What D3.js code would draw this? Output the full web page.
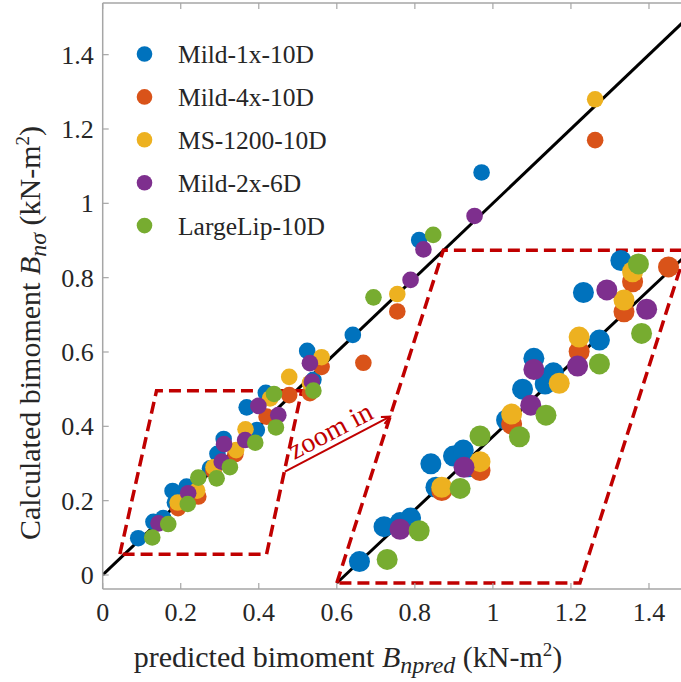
<!DOCTYPE html>
<html><head><meta charset="utf-8">
<script src="https://cdn.jsdelivr.net/npm/d3@7"></script>
<style>
html,body{margin:0;padding:0;background:#fff;}
svg{display:block;font-family:"Liberation Serif","Times New Roman",serif;}
</style></head>
<body>
<svg id="chart" width="681" height="682"></svg>
<script>
// ---------- data ----------
const seriesNames = ["Mild-1x-10D","Mild-4x-10D","MS-1200-10D","Mild-2x-6D","LargeLip-10D"];
const seriesColors = ["#0072BD","#D95319","#EDB120","#7E2F8E","#77AC30"];
const xTicks = [0,0.2,0.4,0.6,0.8,1,1.2,1.4];
const yTicks = [0,0.2,0.4,0.6,0.8,1,1.2,1.4];
const xLim = [0,1.5];
const yLim = [-0.0377,1.539];

// main points [predicted, calculated]
const mild1x = [[0.971,1.083],[0.811,0.901],[0.641,0.646],[0.524,0.603],[0.540,0.525],[0.418,0.490],[0.369,0.451],[0.395,0.390],[0.310,0.366],[0.294,0.326],[0.275,0.287],[0.215,0.238],[0.179,0.226],[0.185,0.195],[0.130,0.143],[0.155,0.153],[0.091,0.099]];
const mild4x = [[1.262,1.170],[0.755,0.709],[0.668,0.571],[0.561,0.560],[0.531,0.489],[0.478,0.484],[0.420,0.426],[0.340,0.325],[0.284,0.280],[0.245,0.211],[0.193,0.180]];
const ms1200 = [[1.262,1.280],[0.755,0.756],[0.561,0.586],[0.531,0.516],[0.478,0.533],[0.429,0.475],[0.366,0.392],[0.342,0.336],[0.284,0.290],[0.242,0.227],[0.192,0.195]];
const mild2x = [[0.953,0.966],[0.822,0.876],[0.789,0.794],[0.531,0.570],[0.536,0.520],[0.450,0.430],[0.399,0.455],[0.365,0.363],[0.311,0.352],[0.305,0.305],[0.219,0.220],[0.143,0.139]];
const largeLip = [[0.847,0.915],[0.694,0.747],[0.540,0.496],[0.439,0.487],[0.444,0.397],[0.391,0.356],[0.326,0.290],[0.292,0.260],[0.245,0.262],[0.218,0.191],[0.168,0.137],[0.127,0.101]];

// zoomed-in copies, placed in main-axis units
const mild1xZoom = [[0.658,0.036],[0.721,0.130],[0.762,0.141],[0.789,0.153],[0.841,0.299],[0.854,0.236],[0.899,0.320],[0.924,0.336],[0.937,0.291],[1.035,0.417],[1.076,0.500],[1.105,0.583],[1.134,0.514],[1.155,0.544],[1.273,0.632],[1.232,0.760],[1.328,0.846]];
const mild4xZoom = [[0.869,0.227],[0.967,0.281],[1.048,0.406],[1.221,0.601],[1.336,0.708],[1.358,0.789],[1.450,0.829]];
const ms1200Zoom = [[0.869,0.236],[0.967,0.305],[1.048,0.433],[1.170,0.516],[1.221,0.640],[1.336,0.740],[1.358,0.816]];
const mild2xZoom = [[0.762,0.123],[0.926,0.290],[1.097,0.457],[1.105,0.553],[1.217,0.562],[1.292,0.767],[1.394,0.715]];
const largeLipZoom = [[0.729,0.042],[0.811,0.119],[0.916,0.233],[0.967,0.374],[1.068,0.372],[1.136,0.430],[1.273,0.568],[1.381,0.650],[1.373,0.837]];

const refLine = [[0,0],[1.5,1.5]];
const zoomRefLine = [[0.6,-0.0215],[1.5,0.865]];
const smallBox = [[0.044,0.056],[0.138,0.496],[0.510,0.496],[0.420,0.056]];
const bigBox = [[0.600,-0.0215],[0.873,0.874],[1.495,0.874],[1.223,-0.0215]];
const arrowPts = [[0.467,0.278],[0.736,0.426]];
const zoomLabel = "zoom in";

const mainSets = [mild1x,mild4x,ms1200,mild2x,largeLip];
const zoomSets = [mild1xZoom,mild4xZoom,ms1200Zoom,mild2xZoom,largeLipZoom];

// ---------- layout ----------
const svg = d3.select("#chart");
const L = 102.7, T = 3, B = 589;
const x = d3.scaleLinear().domain(xLim).range([L, L + 1.5*390.2]);
const y = d3.scaleLinear().domain(yLim).range([B, T]);
const axisCol = "#a6a6a6", textCol = "#262626", red = "#C00000";
const tickFont = 26;

const plot = svg.append("g");
svg.append("defs").append("clipPath").attr("id","clip")
  .append("rect").attr("x",L).attr("y",T).attr("width",681-L).attr("height",B-T);
const clipped = plot.append("g").attr("clip-path","url(#clip)");

const line = d3.line().x(d=>x(d[0])).y(d=>y(d[1]));

// reference lines
clipped.append("path").attr("d",line(refLine)).attr("stroke","#000").attr("stroke-width",3).attr("fill","none");
clipped.append("path").attr("d",line(zoomRefLine)).attr("stroke","#000").attr("stroke-width",3).attr("fill","none");

// boxes
[smallBox,bigBox].forEach(bx=>{
  clipped.append("path").attr("d",line(bx)+"Z").attr("fill","none")
    .attr("stroke",red).attr("stroke-width",3.5).attr("stroke-dasharray","12,6")
    .attr("stroke-linejoin","miter");
});

// points
mainSets.forEach((s,i)=>{
  clipped.append("g").selectAll("circle").data(s).join("circle")
    .attr("cx",d=>x(d[0])).attr("cy",d=>y(d[1])).attr("r",8.3).attr("fill",seriesColors[i]);
});
zoomSets.forEach((s,i)=>{
  clipped.append("g").selectAll("circle").data(s).join("circle")
    .attr("cx",d=>x(d[0])).attr("cy",d=>y(d[1])).attr("r",10.5).attr("fill",seriesColors[i]);
});

// arrow + label
const ax0 = x(arrowPts[0][0]), ay0 = y(arrowPts[0][1]), ax1 = x(arrowPts[1][0]), ay1 = y(arrowPts[1][1]);
const ang = Math.atan2(ay1-ay0, ax1-ax0);
plot.append("line").attr("x1",ax0).attr("y1",ay0).attr("x2",ax1).attr("y2",ay1)
  .attr("stroke",red).attr("stroke-width",2);
const hl = 9, ha = 0.45;
plot.append("path").attr("d",`M${ax1-hl*Math.cos(ang-ha)},${ay1-hl*Math.sin(ang-ha)}L${ax1},${ay1}L${ax1-hl*Math.cos(ang+ha)},${ay1-hl*Math.sin(ang+ha)}`)
  .attr("stroke",red).attr("stroke-width",2).attr("fill","none");
const mx = (ax0+ax1)/2, my = (ay0+ay1)/2;
const deg = ang*180/Math.PI;
plot.append("text").attr("transform",`translate(${mx},${my}) rotate(${deg}) translate(0,-6)`)
  .attr("text-anchor","middle").attr("font-size",28).attr("fill",red).text(zoomLabel);

// axes
const ax = svg.append("g");
ax.append("line").attr("x1",L).attr("x2",681).attr("y1",B).attr("y2",B).attr("stroke",axisCol).attr("stroke-width",1.5);
ax.append("line").attr("x1",L).attr("x2",681).attr("y1",T).attr("y2",T).attr("stroke",axisCol).attr("stroke-width",1.5);
ax.append("line").attr("x1",L).attr("x2",L).attr("y1",T).attr("y2",B).attr("stroke",axisCol).attr("stroke-width",1.5);
xTicks.forEach(t=>{
  ax.append("line").attr("x1",x(t)).attr("x2",x(t)).attr("y1",B).attr("y2",B-6).attr("stroke",axisCol).attr("stroke-width",1.2);
  ax.append("line").attr("x1",x(t)).attr("x2",x(t)).attr("y1",T).attr("y2",T+6).attr("stroke",axisCol).attr("stroke-width",1.2);
  ax.append("text").attr("x",x(t)).attr("y",B+32).attr("text-anchor","middle")
    .attr("font-size",tickFont).attr("fill",textCol).text(d3.format("")(t));
});
yTicks.forEach(t=>{
  ax.append("line").attr("x1",L).attr("x2",L+6).attr("y1",y(t)).attr("y2",y(t)).attr("stroke",axisCol).attr("stroke-width",1.2);
  ax.append("text").attr("x",L-9).attr("y",y(t)).attr("dy","0.35em").attr("text-anchor","end")
    .attr("font-size",tickFont).attr("fill",textCol).text(d3.format("")(t));
});

// axis labels
const xl = svg.append("text").attr("x",348).attr("y",667).attr("text-anchor","middle")
  .attr("font-size",30).attr("fill",textCol);
xl.append("tspan").text("predicted bimoment ");
xl.append("tspan").attr("font-style","italic").text("B");
xl.append("tspan").attr("font-style","italic").attr("font-size",24).attr("dy",6).text("npred");
xl.append("tspan").attr("dy",-6).text(" (kN-m");
xl.append("tspan").attr("font-size",19).attr("dy",-11).text("2");
xl.append("tspan").attr("dy",11).text(")");

const yl = svg.append("text").attr("transform","translate(40,333) rotate(-90)").attr("text-anchor","middle")
  .attr("font-size",30).attr("fill",textCol);
yl.append("tspan").text("Calculated bimoment ");
yl.append("tspan").attr("font-style","italic").text("B");
yl.append("tspan").attr("font-style","italic").attr("font-size",24).attr("dy",6).text("nσ");
yl.append("tspan").attr("dy",-6).text(" (kN-m");
yl.append("tspan").attr("font-size",19).attr("dy",-11).text("2");
yl.append("tspan").attr("dy",11).text(")");

// legend
const lg = svg.append("g");
seriesNames.forEach((n,i)=>{
  const yy = 54 + i*42.9;
  lg.append("circle").attr("cx",144.5).attr("cy",yy).attr("r",7.8).attr("fill",seriesColors[i]);
  lg.append("text").attr("x",178).attr("y",yy).attr("dy","0.35em").attr("font-size",25.5)
    .attr("fill",textCol).text(n);
});
</script>
</body></html>
